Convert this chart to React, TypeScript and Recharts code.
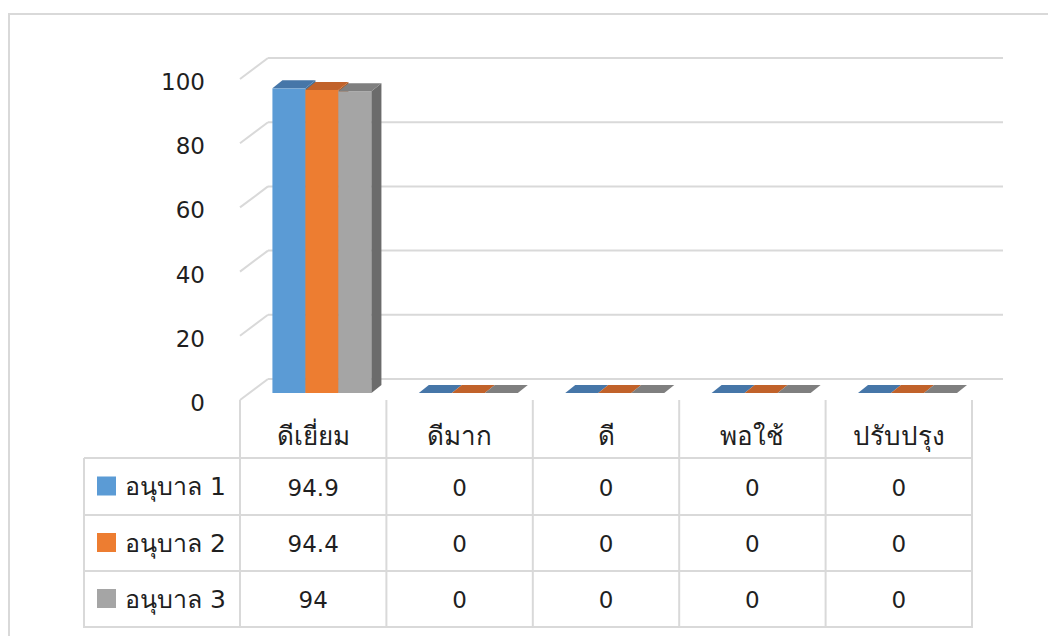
import { BarChart, Bar, XAxis, YAxis, CartesianGrid } from "recharts";

const categories = ["ดีเยี่ยม", "ดีมาก", "ดี", "พอใช้", "ปรับปรุง"];
const seriesNames = ["อนุบาล 1", "อนุบาล 2", "อนุบาล 3"];
const anuban1 = [94.9, 0, 0, 0, 0];
const anuban2 = [94.4, 0, 0, 0, 0];
const anuban3 = [94, 0, 0, 0, 0];
const cellText1 = ["94.9", "0", "0", "0", "0"];
const cellText2 = ["94.4", "0", "0", "0", "0"];
const cellText3 = ["94", "0", "0", "0", "0"];
const yTicks = [0, 20, 40, 60, 80, 100];

const chartData = categories.map((name, i) => ({
  name,
  s1: anuban1[i],
  s2: anuban2[i],
  s3: anuban3[i],
}));
const cellTexts = [cellText1, cellText2, cellText3];

const W = 1048;
const H = 636;
const PLOT_L = 249;
const PLOT_R = 981;
const PLOT_T = 72;
const PLOT_B = 393;
const BAND = (PLOT_R - PLOT_L) / categories.length;

// 3d offsets: front edge and back wall relative to the bar plane
const FRONT_DX = -9;
const FRONT_DY = 7;
const BACK_DX = 19;
const BACK_DY = -14;
const BAR_DX = 10;
const BAR_DY = 8;

const GRID = "#d9d9d9";
const TEXT = "#1f1f1f";
const FONT = "'DejaVu Sans', 'Noto Sans', sans-serif";
const THAI_SIZE = 26;

const COLORS = [
  { front: "#5b9bd5", top: "#4676a8", side: "#41719c" },
  { front: "#ed7d31", top: "#c1622a", side: "#ae5a21" },
  { front: "#a5a5a5", top: "#7f7f7f", side: "#6b6b6b" },
];

// table rows (page coords)
const HEADER_TOP = 400;
const ROW_LINES = [458, 515, 571, 627];
const LEGEND_L = 84;

function bar3d(c: { front: string; top: string; side: string }) {
  return (props: any) => {
    const { x, y, width, height } = props;
    const h = Math.max(0, height || 0);
    return (
      <g>
        {h > 0 && <rect x={x} y={y} width={width} height={h} fill={c.front} />}
        <polygon
          points={`${x + width},${y} ${x + width + BAR_DX},${y - BAR_DY} ${x + width + BAR_DX},${y + h - BAR_DY} ${x + width},${y + h}`}
          fill={c.side}
        />
        <polygon
          points={`${x},${y} ${x + BAR_DX},${y - BAR_DY} ${x + width + BAR_DX},${y - BAR_DY} ${x + width},${y}`}
          fill={c.top}
        />
      </g>
    );
  };
}

function gridLine(p: any) {
  const fx = p.x1 + FRONT_DX;
  const fy = p.y1 + FRONT_DY;
  const bx = p.x1 + BACK_DX;
  const by = p.y1 + BACK_DY;
  return (
    <g key={`g-${p.y1}`}>
      <line x1={fx} y1={fy} x2={bx} y2={by} stroke={GRID} strokeWidth={2} />
      <line x1={bx} y1={by} x2={p.x2 + BACK_DX + 3} y2={by} stroke={GRID} strokeWidth={2} />
    </g>
  );
}

function yTick(p: any) {
  return (
    <text
      x={205}
      y={p.y + FRONT_DY + 3}
      textAnchor="end"
      dy="0.35em"
      fill={TEXT}
      fontSize={23}
      fontFamily={FONT}
    >
      {p.payload.value}
    </text>
  );
}

function tableColumn(p: any) {
  const i = p.index;
  const left = p.x + FRONT_DX - BAND / 2;
  const right = left + BAND;
  const cx = left + BAND / 2;
  const last = i === categories.length - 1;
  return (
    <g>
      <line x1={left} y1={HEADER_TOP} x2={left} y2={ROW_LINES[3] + 1} stroke={GRID} strokeWidth={2} />
      {last && <line x1={right} y1={HEADER_TOP} x2={right} y2={ROW_LINES[3] + 1} stroke={GRID} strokeWidth={2} />}
      {ROW_LINES.map((ly) => (
        <line key={ly} x1={left} y1={ly} x2={right} y2={ly} stroke={GRID} strokeWidth={2} />
      ))}
      <text x={cx} y={436} textAnchor="middle" dy="0.35em" fill={TEXT} fontSize={THAI_SIZE} fontFamily={FONT}>
        {categories[i]}
      </text>
      {cellTexts.map((row, r) => (
        <text
          key={r}
          x={cx}
          y={(ROW_LINES[r] + ROW_LINES[r + 1]) / 2 + 1}
          textAnchor="middle"
          dy="0.35em"
          fill={TEXT}
          fontSize={23}
          fontFamily={FONT}
        >
          {row[i]}
        </text>
      ))}
    </g>
  );
}

export default function App() {
  const tableLeftEdge = PLOT_L + FRONT_DX;
  return (
    <div style={{ position: "absolute", left: 0, top: 0, width: W, height: H, overflow: "hidden", background: "#fff" }}>
      <div
        style={{
          position: "absolute",
          left: 8,
          top: 13,
          width: 1200,
          height: 800,
          border: `2px solid ${GRID}`,
          boxSizing: "border-box",
        }}
      />
      <div style={{ position: "absolute", left: 0, top: 0 }}>
        <BarChart
          width={W}
          height={H}
          data={chartData}
          margin={{ top: PLOT_T, right: W - PLOT_R, bottom: 23, left: 0 }}
          barCategoryGap="16%"
          barGap={0}
        >
          <CartesianGrid vertical={false} horizontal={gridLine} />
          <XAxis
            dataKey="name"
            height={H - 23 - PLOT_B}
            axisLine={false}
            tickLine={false}
            interval={0}
            tick={tableColumn}
          />
          <YAxis
            width={PLOT_L}
            domain={[0, 100]}
            ticks={yTicks}
            axisLine={false}
            tickLine={false}
            tick={yTick}
          />
          <Bar dataKey="s1" name={seriesNames[0]} shape={bar3d(COLORS[0])} isAnimationActive={false} />
          <Bar dataKey="s2" name={seriesNames[1]} shape={bar3d(COLORS[1])} isAnimationActive={false} />
          <Bar dataKey="s3" name={seriesNames[2]} shape={bar3d(COLORS[2])} isAnimationActive={false} />
        </BarChart>
      </div>
      <svg
        width={W}
        height={H}
        style={{ position: "absolute", left: 0, top: 0, pointerEvents: "none" }}
      >
        <line x1={LEGEND_L} y1={ROW_LINES[0]} x2={LEGEND_L} y2={ROW_LINES[3] + 1} stroke={GRID} strokeWidth={2} />
        {ROW_LINES.map((ly) => (
          <line key={ly} x1={LEGEND_L} y1={ly} x2={tableLeftEdge} y2={ly} stroke={GRID} strokeWidth={2} />
        ))}
        {seriesNames.map((name, r) => {
          const cy = (ROW_LINES[r] + ROW_LINES[r + 1]) / 2;
          return (
            <g key={name}>
              <rect x={97} y={cy - 10} width={19} height={19} fill={COLORS[r].front} />
              <text x={125} y={cy} dy="0.35em" fill={TEXT} fontSize={25} fontFamily={FONT}>
                {name}
              </text>
            </g>
          );
        })}
      </svg>
    </div>
  );
}
